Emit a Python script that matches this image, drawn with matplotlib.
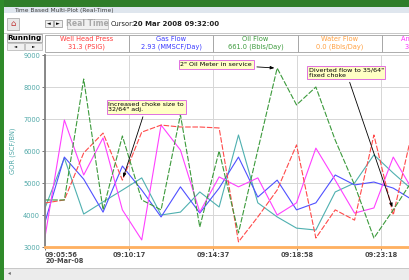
import matplotlib
matplotlib.use('Agg')
import matplotlib.pyplot as plt
from matplotlib.patches import Rectangle
import pandas as pd

W, H = 409, 280
DAY = '2008-03-20 '

# one reading per minute
times = ['09:05:56', '09:06:56', '09:07:56', '09:08:56', '09:09:56',
         '09:10:56', '09:11:56', '09:12:56', '09:13:56', '09:14:56',
         '09:15:56', '09:16:56', '09:17:56', '09:18:56', '09:19:56',
         '09:20:56', '09:21:56', '09:22:56', '09:23:56', '09:24:56']

well_head = [4375, 4470, 5940, 6560, 5090, 6590, 6810, 6750, 6750, 6720,
             3160, 3940, 4780, 6190, 3280, 4160, 3840, 6500, 4000, 6660]
gas_flow = [3780, 5810, 5120, 4090, 5530, 4780, 3940, 4880, 4060, 4840,
            5810, 4560, 5090, 4160, 4380, 5250, 4940, 5030, 4840, 4470]
oil_flow = [4470, 4470, 8250, 4160, 6470, 4470, 4160, 7130, 3625, 6000,
            3440, 6030, 8590, 7440, 8000, 6340, 4940, 3280, 4160, 5090]
water_flow = [3000, 3000, 3000, 3000, 3000, 3000, 3000, 3000, 3000, 3000,
              3000, 3000, 3000, 3000, 3000, 3000, 3000, 3000, 3000, 3000]
annulus = [3310, 6970, 5250, 6410, 4160, 3220, 6810, 6030, 4090, 5190,
           4880, 5160, 4000, 4380, 6090, 5090, 4060, 4220, 5810, 4780]
gor = [4220, 5780, 4030, 4410, 4780, 5160, 4000, 4090, 4720, 4250,
       6500, 4380, 3940, 3590, 3530, 4720, 5000, 5880, 5310, 4780]

tick_times = ['09:05:56', '09:10:17', '09:14:37', '09:18:58', '09:23:18']
y_ticks = [3000, 4000, 5000, 6000, 7000, 8000, 9000]

panels = [('Well Head Press', '31.3 (PSIG)', '#ff3b3b'),
          ('Gas Flow', '2.93 (MMSCF/Day)', '#3b3bff'),
          ('Oil Flow', '661.0 (Bbls/Day)', '#3c9a3c'),
          ('Water Flow', '0.0 (Bbls/Day)', '#ffa040'),
          ('Annulus Press', '32.0 (PSIG)', '#ff30ff')]

plt.rcParams['font.family'] = ['DejaVu Sans']

fig = plt.figure(figsize=(W / 100, H / 100), dpi=100, facecolor='white')


def box(x0, y0, x1, y1, **kw):
    fig.add_artist(Rectangle((x0 / W, 1 - y1 / H), (x1 - x0) / W, (y1 - y0) / H,
                             transform=fig.transFigure, **kw))


def label(x, y, s, **kw):
    fig.text(x / W, 1 - y / H, s, **kw)


# desktop / window chrome
box(0, 0, W, 8, fc='#2f7d2a', ec='none')
box(0, 0, 4, H, fc='#2f8a2a', ec='none')
box(4, 7, W, 13, fc='#dfe6ee', ec='none')
label(14, 10.5, 'Time Based Multi-Plot (Real-Time)', fontsize=4.2, color='#404040', va='center')
box(4, 13, W, 34, fc='white', ec='none')
box(4, 33.5, W, 34.2, fc='#c8c8c8', ec='none')

# toolbar
box(7, 18, 19, 30, fc='#e8e8e8', ec='#a0a0a0', lw=0.5)
label(13, 24, '⌂', fontsize=6, color='#c03030', ha='center', va='center')
box(45, 20.5, 53, 27, fc='#f0f0f0', ec='#909090', lw=0.5)
box(54, 20.5, 62, 27, fc='#f0f0f0', ec='#909090', lw=0.5)
label(49, 24, '◄', fontsize=3.5, color='black', ha='center', va='center')
label(58, 24, '►', fontsize=3.5, color='black', ha='center', va='center')
box(67, 19, 108, 28.5, fc='#f0f0f0', ec='#b0b0b0', lw=0.5)
label(87.5, 24, 'Real Time', fontsize=5.5, color='#a8a8a8', ha='center', va='center', fontweight='bold')
label(111, 24, 'Cursor:', fontsize=4.8, color='#202020', va='center')
label(133, 24, '20 Mar 2008 09:32:00', fontsize=5.0, color='#202020', va='center', fontweight='bold')

# status row
box(7, 34.5, 42, 42, fc='#f0f0f0', ec='#909090', lw=0.5)
label(24.5, 38.3, 'Running', fontsize=5.2, fontweight='bold', ha='center', va='center')
box(7, 43, 24, 50, fc='#f0f0f0', ec='#b0b0b0', lw=0.5)
box(25, 43, 42, 50, fc='#f0f0f0', ec='#b0b0b0', lw=0.5)
label(15.5, 46.5, '◄', fontsize=3, ha='center', va='center')
label(33.5, 46.5, '►', fontsize=3, ha='center', va='center')
for i, (name, reading, colour) in enumerate(panels):
    x0 = 45 + i * 84.2
    box(x0, 34.5, x0 + 84.2, 51.5, fc='white', ec='#a0a0a0', lw=0.6)
    label(x0 + 42, 38.7, name, fontsize=4.8, color=colour, ha='center', va='center')
    label(x0 + 42, 46.3, reading, fontsize=4.8, color=colour, ha='center', va='center')

# bottom scroll bar
box(4, 268, W, 280, fc='#ececec', ec='none')
box(4, 268, W, 268.6, fc='#c8c8c8', ec='none')
label(8, 273, '◂', fontsize=4, color='#606060', va='center')

# plot area (extends past the right edge like the clipped window)
ax = fig.add_axes([45 / W, 1 - 247 / H, 420 / W, 192 / H])
ax.set_facecolor('white')

t = pd.to_datetime([DAY + s for s in times])
ax.plot(t, gor, color='#4fb0b0', lw=0.8)
ax.plot(t, gas_flow, color='#5050ff', lw=0.8)
ax.plot(t, annulus, color='#ff40ff', lw=0.8)
ax.plot(t, well_head, color='#ff4a4a', lw=0.8, ls=(0, (5, 1.5)))
ax.plot(t, oil_flow, color='#3c9a3c', lw=0.8, ls=(0, (5, 1.5)))
ax.plot(t, water_flow, color='#ffb060', lw=2, clip_on=False, zorder=3)

start = pd.Timestamp(DAY + times[0])
ax.set_xlim(start, start + pd.Timedelta(seconds=1302.5))
ax.set_ylim(3000, 9000)

ticks = pd.to_datetime([DAY + s for s in tick_times])
ax.set_xticks(ticks)
ax.set_xticklabels([tick_times[0] + '\n20-Mar-08'] + tick_times[1:],
                   fontsize=4.8, color='#484848', fontweight='bold', linespacing=1.0)
ax.get_xticklabels()[0].set_ha('left')
ax.set_yticks(y_ticks)
ax.set_yticklabels([str(v) for v in y_ticks], fontsize=4.8, color='#4fa8a8')
ax.tick_params(axis='both', length=2, width=0.6, color='#606060', pad=1.5)
ax.grid(True, color='#d6d6d6', lw=0.7)
ax.set_axisbelow(True)
for side in ['top', 'right']:
    ax.spines[side].set_visible(False)
ax.spines['left'].set_color('#808080')
ax.spines['left'].set_linewidth(1.3)
ax.spines['bottom'].set_color('#808080')
ax.set_ylabel('GOR (SCF/BN)', fontsize=4.8, color='#4fa8a8', labelpad=5)

note_box = dict(boxstyle='square,pad=0.25', fc='#ffffc4', ec='#e070e0', lw=0.7)
arrow = dict(arrowstyle='-|>,head_length=0.5,head_width=0.2', color='black', lw=0.6)

ax.annotate('Increased choke size to\n32/64" adj.', xy=(t[4], well_head[4]),
            xytext=(start + pd.Timedelta(seconds=196), 7375), fontsize=4.6,
            ha='left', va='center', bbox=note_box, arrowprops=arrow, linespacing=1.1)
ax.annotate('2" Oil Meter in service', xy=(t[12], oil_flow[12]),
            xytext=(start + pd.Timedelta(seconds=420), 8703), fontsize=4.6,
            ha='left', va='center', bbox=note_box, arrowprops=arrow)
ax.annotate('Diverted flow to 35/64"\nfixed choke', xy=(t[18], oil_flow[18]),
            xytext=(start + pd.Timedelta(seconds=818), 8453), fontsize=4.6,
            ha='left', va='center', bbox=note_box, arrowprops=arrow, linespacing=1.1)

fig.savefig('out.png', dpi=100)
